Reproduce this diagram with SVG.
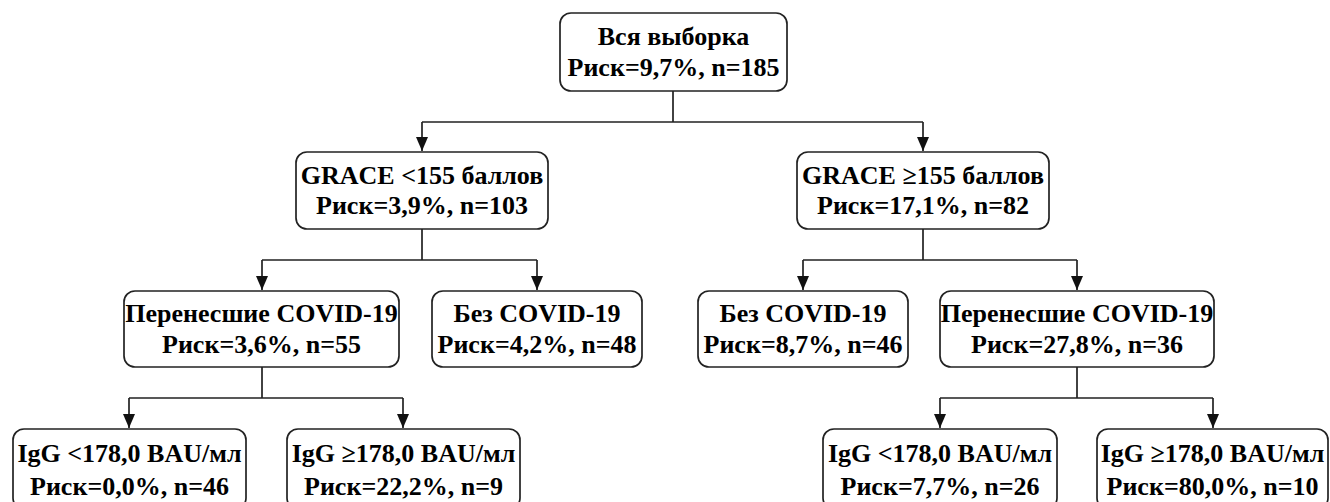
<svg xmlns="http://www.w3.org/2000/svg" width="1330" height="502" viewBox="0 0 1330 502">
<style>
.box{fill:#fff;stroke:#222;stroke-width:1.7}
text{font-family:'Liberation Serif','Tinos','DejaVu Serif','Noto Serif','Times New Roman',serif;font-weight:700;font-size:26px;text-anchor:middle;fill:#000}
.c{fill:none;stroke:#222;stroke-width:1.7}
</style>
<defs>
<marker id="ah" viewBox="0 0 12 14" refX="6" refY="14" markerWidth="12" markerHeight="14" markerUnits="userSpaceOnUse" orient="0">
<path d="M0,0 L12,0 L6,14 z" fill="#111"/>
</marker>
</defs>
<rect width="1330" height="502" fill="#fff"/>
<g id="connectors">
<path class="c" d="M673 91V122M422 122H923"/>
<path class="c" d="M422 122V151" marker-end="url(#ah)"/>
<path class="c" d="M923 122V151" marker-end="url(#ah)"/>
<path class="c" d="M422 229V260M262 260H537"/>
<path class="c" d="M262 260V290" marker-end="url(#ah)"/>
<path class="c" d="M537 260V290" marker-end="url(#ah)"/>
<path class="c" d="M923 229V260M803 260H1077"/>
<path class="c" d="M803 260V290" marker-end="url(#ah)"/>
<path class="c" d="M1077 260V290" marker-end="url(#ah)"/>
<path class="c" d="M262 367V398M129 398H403"/>
<path class="c" d="M129 398V428" marker-end="url(#ah)"/>
<path class="c" d="M403 398V428" marker-end="url(#ah)"/>
<path class="c" d="M1077 367V398M940 398H1213"/>
<path class="c" d="M940 398V428" marker-end="url(#ah)"/>
<path class="c" d="M1213 398V428" marker-end="url(#ah)"/>
</g>
<g id="n0"><rect class="box" x="560" y="13" width="227" height="78" rx="11"/><text font-family="Liberation Serif, serif" x="673.5" y="45">Вся выборка</text><text font-family="Liberation Serif, serif" x="673.5" y="76">Риск=9,7%, n=185</text></g>
<g id="n1"><rect class="box" x="296" y="152" width="252" height="77" rx="11"/><text x="422" y="184">GRACE &lt;155 баллов</text><text x="422" y="214">Риск=3,9%, n=103</text></g>
<g id="n2"><rect class="box" x="797" y="152" width="252" height="77" rx="11"/><text x="923" y="184">GRACE ≥155 баллов</text><text x="923" y="214">Риск=17,1%, n=82</text></g>
<g id="n3"><rect class="box" x="124" y="291" width="275" height="76" rx="11"/><text x="261.5" y="322">Перенесшие COVID-19</text><text x="261.5" y="353">Риск=3,6%, n=55</text></g>
<g id="n4"><rect class="box" x="432" y="291" width="210" height="76" rx="11"/><text x="537" y="322">Без COVID-19</text><text x="537" y="353">Риск=4,2%, n=48</text></g>
<g id="n5"><rect class="box" x="698" y="291" width="210" height="76" rx="11"/><text x="803" y="322">Без COVID-19</text><text x="803" y="353">Риск=8,7%, n=46</text></g>
<g id="n6"><rect class="box" x="940" y="291" width="274" height="76" rx="11"/><text x="1077" y="322">Перенесшие COVID-19</text><text x="1077" y="353">Риск=27,8%, n=36</text></g>
<g id="n7"><rect class="box" x="13" y="429" width="233" height="80" rx="11"/><text x="129.5" y="462">IgG &lt;178,0 BAU/мл</text><text x="129.5" y="495">Риск=0,0%, n=46</text></g>
<g id="n8"><rect class="box" x="287" y="429" width="233" height="80" rx="11"/><text x="403.5" y="462">IgG ≥178,0 BAU/мл</text><text x="403.5" y="495">Риск=22,2%, n=9</text></g>
<g id="n9"><rect class="box" x="823" y="429" width="234" height="80" rx="11"/><text x="940" y="462">IgG &lt;178,0 BAU/мл</text><text x="940" y="495">Риск=7,7%, n=26</text></g>
<g id="n10"><rect class="box" x="1097" y="429" width="231" height="80" rx="11"/><text x="1212.5" y="462">IgG ≥178,0 BAU/мл</text><text x="1212.5" y="495">Риск=80,0%, n=10</text></g>
</svg>
